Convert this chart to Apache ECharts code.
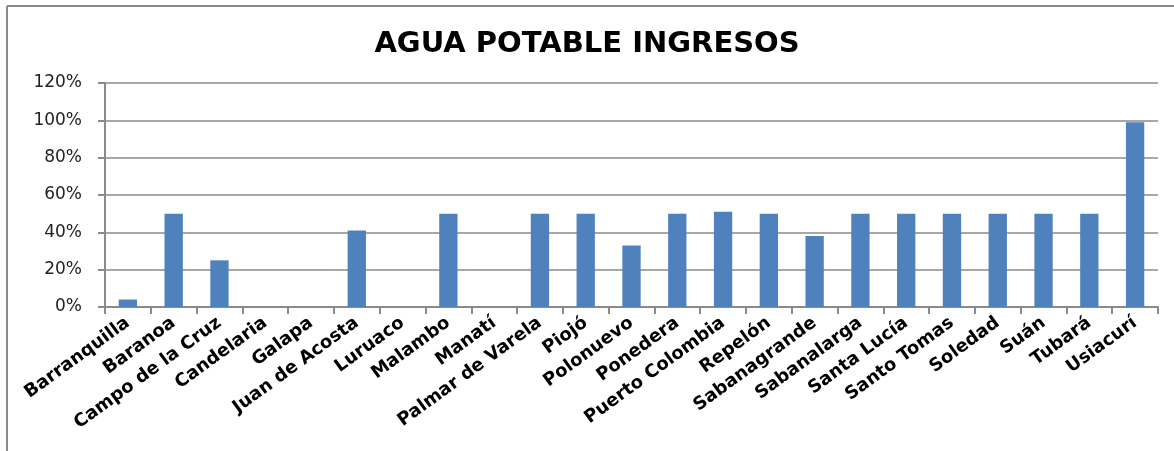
<!DOCTYPE html>
<html>
<head>
<meta charset="utf-8">
<title>Agua potable ingresos</title>
<script src="https://cdn.jsdelivr.net/npm/echarts@6/dist/echarts.min.js"></script>
<style>
  html, body { margin: 0; padding: 0; background: #fff; }
  #chart { width: 1174px; height: 451px; }
</style>
</head>
<body>
<div id="chart"></div>
<script>
const municipios = [
  'Barranquilla', 'Baranoa', 'Campo de la Cruz', 'Candelaria', 'Galapa',
  'Juan de Acosta', 'Luruaco', 'Malambo', 'Manatí', 'Palmar de Varela',
  'Piojó', 'Polonuevo', 'Ponedera', 'Puerto Colombia', 'Repelón',
  'Sabanagrande', 'Sabanalarga', 'Santa Lucía', 'Santo Tomas', 'Soledad',
  'Suán', 'Tubará', 'Usiacurí'
]
// porcentaje de ingresos (0..1)
const ingresos = [
  0.04, 0.50, 0.25, 0, 0,
  0.41, 0, 0.50, 0, 0.50,
  0.50, 0.33, 0.50, 0.51, 0.50,
  0.38, 0.50, 0.50, 0.50, 0.50,
  0.50, 0.50, 0.99
]
const titulo = 'AGUA POTABLE INGRESOS'

const chart = echarts.init(document.getElementById('chart'))
const gris = '#8a8a8a'

chart.setOption({
  animation: false,
  title: {
    text: titulo,
    left: 'center',
    top: 25,
    textStyle: {
      fontFamily: 'DejaVu Sans',
      fontWeight: 'bold',
      fontSize: 29,
      color: '#000'
    }
  },
  graphic: [
    // marco del grafico (solo arriba e izquierda visibles)
    { type: 'line', shape: { x1: 7, y1: 6, x2: 1174, y2: 6 }, style: { stroke: gris, lineWidth: 2 } },
    { type: 'line', shape: { x1: 7, y1: 6, x2: 7, y2: 451 }, style: { stroke: gris, lineWidth: 2 } }
  ],
  grid: {
    left: 105,
    right: 16,
    top: 83,
    bottom: 144
  },
  xAxis: {
    type: 'category',
    data: municipios,
    axisLine: { lineStyle: { color: gris, width: 2 } },
    axisTick: { show: true, length: 7, lineStyle: { color: gris, width: 2 } },
    axisLabel: {
      interval: 0,
      rotate: 36,
      margin: 14,
      fontFamily: 'DejaVu Sans',
      fontWeight: 'bold',
      fontSize: 18,
      color: '#000'
    }
  },
  yAxis: {
    type: 'value',
    min: 0,
    max: 1.2,
    interval: 0.2,
    axisLine: { show: true, lineStyle: { color: gris, width: 2 } },
    axisTick: { show: true, length: 7, lineStyle: { color: gris, width: 2 } },
    splitLine: { lineStyle: { color: gris, width: 1.5 } },
    axisLabel: {
      margin: 23,
      fontFamily: 'DejaVu Sans',
      fontSize: 17,
      color: '#222',
      formatter: v => Math.round(v * 100) + '%'
    }
  },
  series: [{
    type: 'bar',
    data: ingresos,
    barWidth: '40%',
    itemStyle: {
      color: '#4F81BD'
    }
  }]
})
</script>
</body>
</html>
